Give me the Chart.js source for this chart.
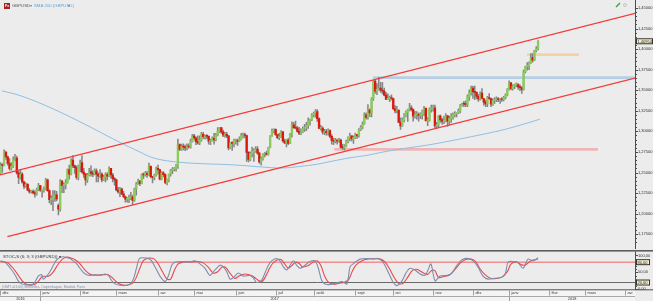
<!DOCTYPE html>
<html><head><meta charset="utf-8">
<script src="https://cdn.jsdelivr.net/npm/chart.js@4/dist/chart.umd.min.js"></script>
<style>
html,body{margin:0;padding:0;background:#ececec;}
#wrap{position:relative;width:653px;height:301px;overflow:hidden;background:#ececec;}
#main{position:absolute;left:0;top:0;}
#stoch{position:absolute;left:0;top:250px;}
</style></head><body>
<div id="wrap"><canvas id="main" width="653" height="249"></canvas><canvas id="stoch" width="653" height="51"></canvas></div>
<script>
// ---- DATA ----
// daily GBPUSD candles [open, high, low, close], first bar = 1 Dec 2016
const ohlc = [
// Dec 2016
[1.2490,1.2620,1.2480,1.2590],[1.2590,1.2610,1.2500,1.2585],[1.2585,1.2775,1.2580,1.2745],[1.2745,1.2760,1.2660,1.2690],[1.2690,1.2700,1.2590,1.2610],[1.2610,1.2670,1.2530,1.2550],[1.2550,1.2620,1.2530,1.2575],[1.2575,1.2690,1.2560,1.2650],[1.2650,1.2720,1.2640,1.2675],[1.2675,1.2700,1.2480,1.2495],[1.2495,1.2520,1.2365,1.2440],[1.2440,1.2540,1.2420,1.2480],[1.2480,1.2500,1.2370,1.2385],[1.2385,1.2395,1.2305,1.2335],[1.2335,1.2375,1.2320,1.2355],[1.2355,1.2365,1.2280,1.2285],[1.2285,1.2305,1.2250,1.2265],[1.2265,1.2285,1.2250,1.2270],[1.2270,1.2290,1.2240,1.2255],[1.2255,1.2280,1.2200,1.2240],[1.2240,1.2310,1.2225,1.2295],[1.2295,1.2370,1.2280,1.2340],
// Jan 2017
[1.2340,1.2345,1.2270,1.2285],[1.2285,1.2300,1.2200,1.2290],[1.2290,1.2325,1.2260,1.2300],[1.2300,1.2430,1.2290,1.2410],[1.2410,1.2420,1.2270,1.2280],[1.2280,1.2290,1.2130,1.2170],[1.2170,1.2220,1.2110,1.2175],[1.2175,1.2280,1.2035,1.2195],[1.2195,1.2280,1.2150,1.2230],[1.2230,1.2270,1.2155,1.2180],[1.2100,1.2120,1.1986,1.2055],[1.2055,1.2415,1.2030,1.2395],[1.2395,1.2405,1.2255,1.2340],[1.2340,1.2375,1.2255,1.2345],[1.2345,1.2415,1.2300,1.2375],[1.2375,1.2545,1.2370,1.2535],[1.2535,1.2590,1.2420,1.2480],[1.2480,1.2670,1.2470,1.2650],[1.2650,1.2705,1.2560,1.2580],[1.2580,1.2590,1.2490,1.2560],[1.2560,1.2580,1.2420,1.2440],[1.2440,1.2590,1.2410,1.2580],
// Feb 2017
[1.2580,1.2650,1.2510,1.2620],[1.2620,1.2705,1.2495,1.2505],[1.2505,1.2550,1.2440,1.2480],[1.2480,1.2490,1.2345,1.2410],[1.2410,1.2490,1.2380,1.2470],[1.2470,1.2550,1.2460,1.2510],[1.2510,1.2580,1.2455,1.2490],[1.2490,1.2525,1.2450,1.2480],[1.2480,1.2545,1.2470,1.2520],[1.2520,1.2545,1.2385,1.2480],[1.2480,1.2495,1.2385,1.2455],[1.2455,1.2535,1.2440,1.2480],[1.2480,1.2495,1.2385,1.2410],[1.2410,1.2465,1.2400,1.2445],[1.2445,1.2495,1.2385,1.2475],[1.2475,1.2500,1.2410,1.2455],[1.2455,1.2570,1.2450,1.2550],[1.2550,1.2550,1.2430,1.2470],[1.2470,1.2490,1.2385,1.2425],[1.2425,1.2440,1.2345,1.2410],
// Mar 2017
[1.2410,1.2420,1.2275,1.2290],[1.2290,1.2320,1.2250,1.2265],[1.2265,1.2320,1.2205,1.2300],[1.2300,1.2310,1.2230,1.2240],[1.2240,1.2270,1.2195,1.2205],[1.2205,1.2215,1.2140,1.2175],[1.2175,1.2195,1.2140,1.2180],[1.2180,1.2225,1.2135,1.2185],[1.2185,1.2260,1.2170,1.2205],[1.2205,1.2225,1.2110,1.2160],[1.2160,1.2310,1.2150,1.2300],[1.2300,1.2380,1.2225,1.2360],[1.2360,1.2420,1.2355,1.2395],[1.2395,1.2405,1.2340,1.2365],[1.2365,1.2485,1.2360,1.2475],[1.2475,1.2495,1.2425,1.2470],[1.2470,1.2510,1.2455,1.2490],[1.2490,1.2515,1.2440,1.2475],[1.2475,1.2615,1.2465,1.2575],[1.2575,1.2580,1.2435,1.2450],[1.2450,1.2455,1.2375,1.2440],[1.2440,1.2480,1.2410,1.2470],[1.2470,1.2565,1.2455,1.2550],
// Apr 2017
[1.2550,1.2590,1.2480,1.2535],[1.2535,1.2540,1.2410,1.2420],[1.2420,1.2510,1.2410,1.2495],[1.2495,1.2510,1.2445,1.2475],[1.2475,1.2485,1.2365,1.2380],[1.2380,1.2420,1.2350,1.2410],[1.2410,1.2480,1.2385,1.2480],[1.2480,1.2540,1.2455,1.2530],[1.2530,1.2560,1.2485,1.2540],[1.2540,1.2560,1.2520,1.2550],[1.2550,1.2600,1.2515,1.2580],[1.2580,1.2905,1.2550,1.2840],[1.2840,1.2850,1.2765,1.2780],[1.2780,1.2845,1.2770,1.2820],[1.2820,1.2850,1.2775,1.2810],[1.2810,1.2835,1.2765,1.2800],[1.2800,1.2850,1.2775,1.2815],[1.2815,1.2850,1.2795,1.2810],[1.2810,1.2905,1.2795,1.2875],[1.2875,1.2965,1.2870,1.2945],
// May 2017
[1.2945,1.2965,1.2895,1.2920],[1.2920,1.2935,1.2840,1.2875],[1.2875,1.2945,1.2845,1.2860],[1.2860,1.2945,1.2840,1.2895],[1.2895,1.2990,1.2880,1.2965],[1.2965,1.2990,1.2910,1.2935],[1.2935,1.2955,1.2905,1.2945],[1.2945,1.2960,1.2910,1.2940],[1.2940,1.2945,1.2845,1.2880],[1.2880,1.2905,1.2840,1.2885],[1.2885,1.2935,1.2880,1.2915],[1.2915,1.2975,1.2845,1.2895],[1.2895,1.2975,1.2885,1.2955],[1.2955,1.3045,1.2945,1.3000],[1.3000,1.3050,1.2985,1.3045],[1.3045,1.3045,1.2975,1.2995],[1.2995,1.3015,1.2935,1.2955],[1.2955,1.2990,1.2930,1.2965],[1.2965,1.2990,1.2925,1.2945],[1.2945,1.2950,1.2775,1.2800],[1.2800,1.2865,1.2790,1.2860],[1.2860,1.2875,1.2770,1.2855],[1.2855,1.2905,1.2810,1.2885],
// Jun 2017
[1.2885,1.2905,1.2845,1.2890],[1.2890,1.2905,1.2830,1.2880],[1.2880,1.2935,1.2875,1.2905],[1.2905,1.2975,1.2895,1.2945],[1.2945,1.2980,1.2920,1.2955],[1.2955,1.2980,1.2920,1.2950],[1.2950,1.2955,1.2635,1.2745],[1.2745,1.2755,1.2630,1.2660],[1.2660,1.2750,1.2640,1.2730],[1.2730,1.2810,1.2690,1.2750],[1.2750,1.2790,1.2635,1.2760],[1.2760,1.2815,1.2745,1.2785],[1.2785,1.2815,1.2720,1.2735],[1.2735,1.2745,1.2610,1.2630],[1.2630,1.2690,1.2590,1.2670],[1.2670,1.2730,1.2650,1.2725],[1.2725,1.2745,1.2690,1.2730],[1.2730,1.2760,1.2710,1.2720],[1.2720,1.2810,1.2710,1.2805],[1.2805,1.2950,1.2800,1.2950],[1.2950,1.3030,1.2940,1.3000],[1.3000,1.3030,1.2980,1.3025],
// Jul 2017
[1.3025,1.3030,1.2950,1.2960],[1.2960,1.2965,1.2910,1.2925],[1.2925,1.2975,1.2900,1.2935],[1.2935,1.3010,1.2925,1.2995],[1.2995,1.3000,1.2870,1.2885],[1.2885,1.2905,1.2850,1.2860],[1.2860,1.2900,1.2810,1.2895],[1.2895,1.2915,1.2840,1.2855],[1.2855,1.2975,1.2850,1.2965],[1.2965,1.3115,1.2930,1.3080],[1.3080,1.3110,1.3035,1.3045],[1.3045,1.3125,1.3030,1.3040],[1.3040,1.3060,1.2990,1.3000],[1.3000,1.3050,1.2960,1.2975],[1.2975,1.3030,1.2960,1.2995],[1.2995,1.3055,1.2985,1.3035],[1.3035,1.3085,1.3000,1.3045],[1.3045,1.3110,1.3010,1.3070],[1.3070,1.3165,1.3035,1.3125],[1.3125,1.3150,1.3075,1.3140],[1.3140,1.3215,1.3130,1.3200],
// Aug 2017
[1.3200,1.3235,1.3175,1.3220],[1.3220,1.3265,1.3170,1.3240],[1.3240,1.3265,1.3120,1.3155],[1.3155,1.3165,1.3030,1.3035],[1.3035,1.3075,1.3015,1.3040],[1.3040,1.3055,1.2965,1.2990],[1.2990,1.3025,1.2960,1.3000],[1.3000,1.3025,1.2955,1.2985],[1.2985,1.3030,1.2955,1.3010],[1.3010,1.3020,1.2925,1.2940],[1.2940,1.2960,1.2845,1.2890],[1.2890,1.2915,1.2840,1.2880],[1.2880,1.2915,1.2860,1.2890],[1.2890,1.2905,1.2845,1.2880],[1.2880,1.2915,1.2865,1.2895],[1.2895,1.2905,1.2800,1.2805],[1.2805,1.2845,1.2780,1.2800],[1.2800,1.2840,1.2775,1.2820],[1.2820,1.2895,1.2810,1.2880],[1.2880,1.2935,1.2860,1.2925],[1.2925,1.2980,1.2885,1.2945],[1.2945,1.2950,1.2885,1.2910],[1.2910,1.2945,1.2855,1.2925],
// Sep 2017
[1.2925,1.2980,1.2910,1.2960],[1.2960,1.2965,1.2915,1.2945],[1.2945,1.3035,1.2930,1.3020],[1.3020,1.3070,1.3010,1.3050],[1.3050,1.3115,1.3030,1.3090],[1.3090,1.3225,1.3085,1.3200],[1.3200,1.3225,1.3150,1.3170],[1.3170,1.3325,1.3150,1.3260],[1.3260,1.3275,1.3180,1.3225],[1.3225,1.3410,1.3175,1.3400],[1.3400,1.3620,1.3375,1.3610],[1.3610,1.3620,1.3460,1.3490],[1.3490,1.3580,1.3445,1.3510],[1.3510,1.3657,1.3500,1.3525],[1.3525,1.3595,1.3475,1.3500],[1.3500,1.3595,1.3455,1.3490],[1.3490,1.3525,1.3430,1.3440],[1.3440,1.3475,1.3385,1.3390],[1.3390,1.3455,1.3385,1.3395],[1.3395,1.3430,1.3360,1.3410],[1.3410,1.3445,1.3380,1.3400],
// Oct 2017
[1.3400,1.3405,1.3265,1.3275],[1.3275,1.3315,1.3225,1.3250],[1.3250,1.3305,1.3225,1.3255],[1.3255,1.3265,1.3105,1.3110],[1.3110,1.3165,1.3025,1.3065],[1.3065,1.3165,1.3060,1.3140],[1.3140,1.3215,1.3115,1.3190],[1.3190,1.3250,1.3175,1.3235],[1.3235,1.3270,1.3120,1.3265],[1.3265,1.3340,1.3250,1.3285],[1.3285,1.3315,1.3245,1.3265],[1.3265,1.3275,1.3125,1.3185],[1.3185,1.3245,1.3160,1.3200],[1.3200,1.3240,1.3150,1.3205],[1.3205,1.3225,1.3125,1.3195],[1.3195,1.3225,1.3155,1.3200],[1.3200,1.3260,1.3150,1.3245],[1.3245,1.3305,1.3190,1.3280],[1.3280,1.3285,1.3125,1.3130],[1.3130,1.3165,1.3070,1.3135],[1.3135,1.3285,1.3125,1.3270],[1.3270,1.3320,1.3235,1.3280],
// Nov 2017
[1.3280,1.3320,1.3245,1.3285],[1.3285,1.3320,1.3035,1.3065],[1.3065,1.3110,1.3040,1.3080],[1.3080,1.3195,1.3055,1.3185],[1.3185,1.3200,1.3110,1.3140],[1.3140,1.3160,1.3085,1.3120],[1.3120,1.3185,1.3095,1.3125],[1.3125,1.3215,1.3115,1.3190],[1.3190,1.3195,1.3060,1.3125],[1.3125,1.3185,1.3080,1.3160],[1.3160,1.3215,1.3110,1.3185],[1.3185,1.3225,1.3150,1.3200],[1.3200,1.3240,1.3175,1.3215],[1.3215,1.3225,1.3175,1.3225],[1.3225,1.3275,1.3215,1.3250],[1.3250,1.3330,1.3225,1.3320],[1.3320,1.3345,1.3305,1.3335],[1.3335,1.3365,1.3300,1.3330],[1.3330,1.3370,1.3300,1.3325],[1.3325,1.3445,1.3300,1.3420],[1.3420,1.3505,1.3375,1.3470],[1.3470,1.3550,1.3440,1.3525],
// Dec 2017
[1.3525,1.3550,1.3400,1.3480],[1.3480,1.3550,1.3385,1.3475],[1.3475,1.3480,1.3395,1.3425],[1.3425,1.3450,1.3365,1.3395],[1.3395,1.3480,1.3380,1.3465],[1.3465,1.3520,1.3395,1.3400],[1.3400,1.3400,1.3320,1.3355],[1.3355,1.3380,1.3300,1.3335],[1.3335,1.3425,1.3300,1.3410],[1.3410,1.3460,1.3390,1.3400],[1.3400,1.3405,1.3300,1.3330],[1.3330,1.3395,1.3315,1.3375],[1.3375,1.3410,1.3340,1.3385],[1.3385,1.3420,1.3360,1.3400],[1.3400,1.3410,1.3360,1.3385],[1.3385,1.3400,1.3340,1.3390],[1.3390,1.3410,1.3365,1.3385],[1.3385,1.3425,1.3370,1.3410],[1.3410,1.3455,1.3395,1.3440],[1.3440,1.3520,1.3430,1.3510],
// Jan 2018
[1.3510,1.3615,1.3500,1.3590],[1.3590,1.3595,1.3505,1.3520],[1.3520,1.3565,1.3500,1.3550],[1.3550,1.3575,1.3520,1.3565],[1.3565,1.3590,1.3540,1.3570],[1.3570,1.3580,1.3510,1.3540],[1.3540,1.3565,1.3495,1.3530],[1.3530,1.3545,1.3460,1.3510],[1.3510,1.3745,1.3500,1.3725],[1.3725,1.3795,1.3710,1.3790],[1.3790,1.3835,1.3745,1.3795],[1.3795,1.3845,1.3750,1.3830],[1.3830,1.3945,1.3825,1.3900],[1.3900,1.3945,1.3840,1.3865],[1.3865,1.3985,1.3860,1.3980],[1.3980,1.4030,1.3965,1.4005],[1.4005,1.4105,1.3990,1.40954]
];
// SMA 200: [bar, price]
const sma200 = [[0.8,1.3493],[10.8,1.3435],[27.3,1.3291],[45.6,1.3098],[64.4,1.2884],[77.1,1.2749],[84.3,1.2679],[95.3,1.2633],[110.2,1.2609],[128.5,1.2593],[147.2,1.2563],[156.1,1.2555],[165.5,1.2574],[174.9,1.2601],[183.7,1.2640],[193.1,1.2679],[202.5,1.2709],[211.3,1.2749],[220.7,1.2784],[239,1.2845],[257.7,1.2925],[276,1.3010],[287,1.3075],[298,1.3148]];
// trend channel: [bar, price]
const upperChannel = [[-0.28,1.2470],[350.6,1.4434]];
const lowerChannel = [[3.8,1.1721],[350.6,1.3648]];
// zones: [fromBar, toBar, low, high]
const blueZone = [205.8,350.6,1.3636,1.3671];
const orangeZone = [290.9,319.6,1.3915,1.3950];
const pinkZone = [184.3,330.1,1.2764,1.2799];
// slow stochastic (6;3;3): [bar, value]
const stochK = [[0,84],[2.5,80],[4.3,70],[6.2,57],[8,43],[9.8,25],[11.7,16],[14.5,13],[17.2,13],[19,21],[20.9,39],[22.8,43],[23.6,30],[25.5,39],[27.3,52],[29.2,71],[31,87],[32.9,94],[34.7,96],[36.6,93],[38.4,91],[40.2,84],[42.1,75],[43.9,62],[45.7,50],[47.6,43],[49.4,41],[52.2,43],[55,41],[57.7,45],[59.6,41],[61.4,26],[63.3,16],[66,12],[68.8,11],[71.5,16],[73.4,30],[75.3,66],[76.7,91],[78.9,93],[81.7,91],[83.5,84],[85.4,66],[88.1,39],[90.9,23],[92.7,39],[94.6,71],[96.4,80],[100.1,82],[103.8,80],[107.5,84],[110.2,75],[113,62],[115.7,41],[118.5,57],[121.3,71],[123.1,66],[125,52],[126.8,30],[128.6,34],[131.4,48],[134.1,39],[137.8,41],[139.7,34],[141.5,20],[144.3,27],[146.1,48],[148,71],[149.8,84],[152.6,91],[154.4,84],[156.3,66],[158.1,57],[160,71],[161.8,84],[163.6,71],[165.5,62],[168.2,71],[171,82],[173.8,84],[175.6,62],[177.5,25],[179.3,16],[182,14],[186,19],[188.7,23],[191.4,16],[193.1,66],[194.8,75],[198.6,89],[202.5,91],[205.8,89],[208.6,91],[211.3,80],[214.1,52],[216.9,21],[219.1,11],[221.8,25],[224,48],[226.2,62],[229,57],[231.8,45],[234.5,41],[236.2,57],[237.8,75],[240.1,25],[242.8,39],[246.7,41],[249.4,48],[252.2,71],[255,87],[258.3,91],[261.1,84],[263.8,66],[266.6,39],[269.3,30],[272.1,32],[276,34],[278.7,43],[280.4,80],[283.2,82],[286,78],[288.7,62],[291.4,89],[294.2,84],[297,93]];
const stochD = [[0,83],[4,78],[6,68],[8,55],[10,40],[12,25],[14,16],[16.5,13],[19,15],[21,24],[23,38],[25,38],[27,40],[29,50],[31,67],[33,82],[35,92],[37,95],[39,92],[41,88],[43,80],[45,68],[47,55],[49,46],[51,42],[54,42],[57,43],[59.5,43],[62,33],[64.5,20],[67,13],[70,12],[73,18],[75,35],[77,62],[79,85],[82,92],[85,89],[87,76],[89.5,52],[92,30],[94,30],[96,55],[98,74],[101,81],[105,81],[109,82],[112,78],[115,64],[117.5,48],[120,52],[122.5,66],[124.5,64],[127,46],[129.5,32],[132,40],[135,45],[139,40],[141.5,30],[144,22],[146,33],[148,55],[150,74],[152.5,86],[155,88],[157,75],[159,62],[161,70],[163,80],[165,76],[167,66],[170,70],[172.5,80],[175,84],[177,70],[179,40],[181,22],[184,15],[187,18],[190,21],[192.5,30],[194.5,55],[196.5,72],[200,85],[204,90],[207,90],[210,89],[212.5,80],[215,60],[217.5,35],[220,17],[222.5,18],[225,36],[227.5,55],[230,59],[233,50],[236,44],[238,55],[240,55],[242,35],[245,38],[248,42],[251,58],[254,77],[257,88],[260,89],[262.5,82],[265,60],[268,42],[271,32],[274,32],[277,36],[280,52],[282,74],[285,81],[288,72],[290,72],[293,84],[296,88],[297,90]];
const stochLevels = [80,20];
// axes
const priceTickValues = [1.175,1.2,1.225,1.25,1.275,1.3,1.325,1.35,1.375,1.4,1.425,1.45];
const stochTickValues = [0,50,100];
const monthLabels = ['déc','janv','févr','mars','avr','mai','juin','juil','août','sept','oct','nov','déc','janv','févr','mars','avr'];
const monthStarts = [0,22,44,64,87,107,130,152,173,196,217,239,261,281,303,323,345];
const yearLabels = ['2016','2017','2018'];
const yearStarts = [0,22,281];

// ---- RENDER ----
const X_MIN = -0.276, X_MAX = 350.55;
const FONT = '"Liberation Sans", Arial, sans-serif';
const fmtPrice = v => v.toFixed(5).replace('.', ',');
const fmtStoch = v => v.toFixed(2).replace('.', ',');
const pts = arr => arr.map(p => ({x:p[0], y:p[1]}));
const UP = '#8acb5c', DOWN = '#d9180f';

function zoneSets(z, color){
  return [
    {type:'line', data:[{x:z[0],y:z[3]},{x:z[1],y:z[3]}], borderWidth:0, pointRadius:0, fill:false, order:6},
    {type:'line', data:[{x:z[0],y:z[2]},{x:z[1],y:z[2]}], borderWidth:0, pointRadius:0, fill:'-1', backgroundColor:color, order:6}
  ];
}

const mainDeco = {
  id:'mainDeco',
  beforeDraw(c){ const g=c.ctx; g.save(); g.fillStyle='#ececec'; g.fillRect(0,0,c.width,c.height); g.restore(); },
  afterDraw(c){
    const g=c.ctx, a=c.chartArea, y=c.scales.y;
    g.save();
    g.strokeStyle='#4d4d4d'; g.lineWidth=1;
    g.beginPath(); g.moveTo(a.right+0.5,0); g.lineTo(a.right+0.5,c.height); g.stroke();
    for(let k=0;k<=62;k++){
      const v=1.150+k*0.005; if(v<y.min||v>y.max) continue;
      const py=Math.round(y.getPixelForValue(v))+0.5;
      g.beginPath(); g.moveTo(a.right,py); g.lineTo(a.right+(k%5===0?3:2),py); g.stroke();
    }
    // last price badge
    const last=ohlc[ohlc.length-1][3], py=y.getPixelForValue(last);
    g.fillStyle='#f6f1cf'; g.fillRect(a.right+1,py-3,17,6);
    g.strokeStyle='#333'; g.strokeRect(a.right+1.5,py-2.5,16,5);
    g.fillStyle='#222'; g.font='4px '+FONT; g.textBaseline='middle'; g.textAlign='left';
    g.fillText(fmtPrice(last),a.right+2.5,py+0.3);
    // title
    g.fillStyle='#a52222'; g.fillRect(4,3,6,6);
    g.fillStyle='#fff'; g.font='bold 3.5px '+FONT; g.fillText('Fx',5,6.2);
    g.font='4.3px '+FONT; g.fillStyle='#555'; g.fillText('GBPUSD',12,6.2);
    g.fillStyle='#777'; g.fillText('▾',29.5,6.2);
    g.fillStyle='#5da3dc'; g.fillText('SMA 200 (GBPUSD)',34,6.2);
    g.fillStyle='#777'; g.fillText('▾',68,6.2);
    // small tool icons top right
    g.strokeStyle='#3aa43a'; g.lineWidth=1.5; g.beginPath(); g.moveTo(616,7); g.lineTo(620,3); g.stroke();
    g.strokeStyle='#bbb'; g.lineWidth=0.8; g.beginPath(); g.arc(625,5,1.5,0,Math.PI*2); g.stroke();
    g.restore();
  }
};

new Chart(document.getElementById('main'), {
  type:'bar',
  data:{ datasets:[
    ...zoneSets(blueZone,'rgba(176,204,228,0.9)'),
    ...zoneSets(orangeZone,'rgba(244,208,156,0.9)'),
    ...zoneSets(pinkZone,'rgba(238,176,176,0.9)'),
    {type:'line', data:pts(sma200), borderColor:'#8ebfe4', borderWidth:1, pointRadius:0, tension:0.4, fill:false, order:4},
    {type:'bar', data:ohlc.map((d,i)=>({x:i,y:[d[2],d[1]]})), backgroundColor:'#858585', barThickness:0.9, grouped:false, order:2},
    {type:'bar', data:ohlc.map((d,i)=>({x:i,y:[d[0],d[3]]})), backgroundColor:ohlc.map(d=>d[3]>=d[0]?UP:DOWN), barThickness:1.7, minBarLength:1, grouped:false, order:1},
    {type:'line', data:pts(upperChannel), borderColor:'#f23a3a', borderWidth:1.2, pointRadius:0, fill:false, order:0},
    {type:'line', data:pts(lowerChannel), borderColor:'#f23a3a', borderWidth:1.2, pointRadius:0, fill:false, order:0}
  ]},
  options:{
    responsive:false, animation:false, devicePixelRatio:1,
    layout:{padding:{left:0,right:0,top:0,bottom:0}},
    plugins:{legend:{display:false}, tooltip:{enabled:false}},
    scales:{
      x:{type:'linear', min:X_MIN, max:X_MAX, offset:false, display:false},
      y:{type:'linear', position:'right', min:1.16360, max:1.45314,
         afterFit:s=>{s.width=18;},
         afterBuildTicks:s=>{s.ticks=priceTickValues.map(v=>({value:v}));},
         grid:{display:false, drawTicks:false}, border:{display:false},
         ticks:{padding:3, font:{size:4, family:FONT}, color:'#333', callback:v=>fmtPrice(v), autoSkip:false}}
    }
  },
  plugins:[mainDeco]
});

const stochDeco = {
  id:'stochDeco',
  beforeDraw(c){ const g=c.ctx; g.save(); g.fillStyle='#ececec'; g.fillRect(0,0,c.width,c.height); g.restore(); },
  afterDraw(c){
    const g=c.ctx, a=c.chartArea, y=c.scales.y, x=c.scales.x;
    g.save();
    g.fillStyle='#5e5e5e'; g.fillRect(0,0,c.width,1.6);
    g.strokeStyle='#4d4d4d'; g.lineWidth=1;
    g.beginPath(); g.moveTo(a.right+0.5,1.5); g.lineTo(a.right+0.5,a.bottom); g.stroke();
    for(let v=0; v<=100; v+=10){ const py=Math.round(y.getPixelForValue(v))+0.5; g.beginPath(); g.moveTo(a.right,py); g.lineTo(a.right+(v%50===0?3:2),py); g.stroke(); }
    g.font='4px '+FONT; g.textBaseline='middle'; g.textAlign='left';
    stochLevels.forEach(v=>{ const py=y.getPixelForValue(v);
      g.fillStyle='#f6f1cf'; g.fillRect(a.right+1,py-3,14,6);
      g.strokeStyle='#333'; g.strokeRect(a.right+1.5,py-2.5,13,5);
      g.fillStyle='#222'; g.fillText(fmtStoch(v),a.right+2.5,py+0.3); });
    g.font='4.3px '+FONT; g.fillStyle='#333';
    g.fillText('STOC-S (6; 3; 3 (GBPUSD)) ▾',3,6.5);
    g.font='3.6px '+FONT; g.fillStyle='#8090a8';
    g.fillText('(GMT+01:00) Bruxelles, Copenhague, Madrid, Paris',2,a.bottom-2.3);
    const r1=a.bottom, r2=a.bottom+6.2, r3=c.height;
    g.fillStyle='#f4f4f4'; g.fillRect(0,r1,a.right,r3-r1);
    g.strokeStyle='#505050'; g.lineWidth=1;
    g.beginPath(); g.moveTo(0,r1+0.5); g.lineTo(c.width,r1+0.5); g.stroke();
    g.strokeStyle='#a8a8a8';
    g.beginPath(); g.moveTo(0,Math.round(r2)+0.5); g.lineTo(a.right,Math.round(r2)+0.5); g.stroke();
    g.font='3.8px '+FONT; g.fillStyle='#333';
    monthStarts.forEach((m,i)=>{ const px=Math.round(x.getPixelForValue(m))+0.5; if(px>a.right) return;
      g.strokeStyle='#a0a0a0'; g.beginPath(); g.moveTo(px,r1+1); g.lineTo(px,r2); g.stroke();
      g.fillText(monthLabels[i],px+2,(r1+r2)/2+0.5); });
    yearStarts.forEach((ys,i)=>{ const px0=x.getPixelForValue(ys); const px1=i<yearStarts.length-1?x.getPixelForValue(yearStarts[i+1]):a.right;
      if(i>0){ g.strokeStyle='#a0a0a0'; g.beginPath(); g.moveTo(Math.round(px0)+0.5,r2); g.lineTo(Math.round(px0)+0.5,r3); g.stroke(); }
      g.textAlign='center'; g.fillText(yearLabels[i],(px0+px1)/2,(r2+r3)/2+0.3); g.textAlign='left'; });
    g.restore();
  }
};

new Chart(document.getElementById('stoch'), {
  type:'line',
  data:{ datasets:[
    {data:[{x:X_MIN,y:stochLevels[0]},{x:X_MAX,y:stochLevels[0]}], borderColor:'#f26060', borderWidth:1, pointRadius:0, order:3},
    {data:[{x:X_MIN,y:stochLevels[1]},{x:X_MAX,y:stochLevels[1]}], borderColor:'#6a6a6a', borderWidth:1, pointRadius:0, order:3},
    {data:pts(stochD), borderColor:'#e94848', borderWidth:1.1, pointRadius:0, tension:0.3, order:1},
    {data:pts(stochK), borderColor:'#7b8db0', borderWidth:1.1, pointRadius:0, tension:0.3, order:0}
  ]},
  options:{
    responsive:false, animation:false, devicePixelRatio:1,
    layout:{padding:{left:0,right:0,top:2.7,bottom:11.7}},
    plugins:{legend:{display:false}, tooltip:{enabled:false}},
    scales:{
      x:{type:'linear', min:X_MIN, max:X_MAX, offset:false, display:false},
      y:{type:'linear', position:'right', min:0, max:100,
         afterFit:s=>{s.width=18;},
         afterBuildTicks:s=>{s.ticks=stochTickValues.map(v=>({value:v}));},
         grid:{display:false, drawTicks:false}, border:{display:false},
         ticks:{padding:3, font:{size:4, family:FONT}, color:'#333', callback:v=>fmtStoch(v), autoSkip:false}}
    }
  },
  plugins:[stochDeco]
});
</script>
</body></html>
